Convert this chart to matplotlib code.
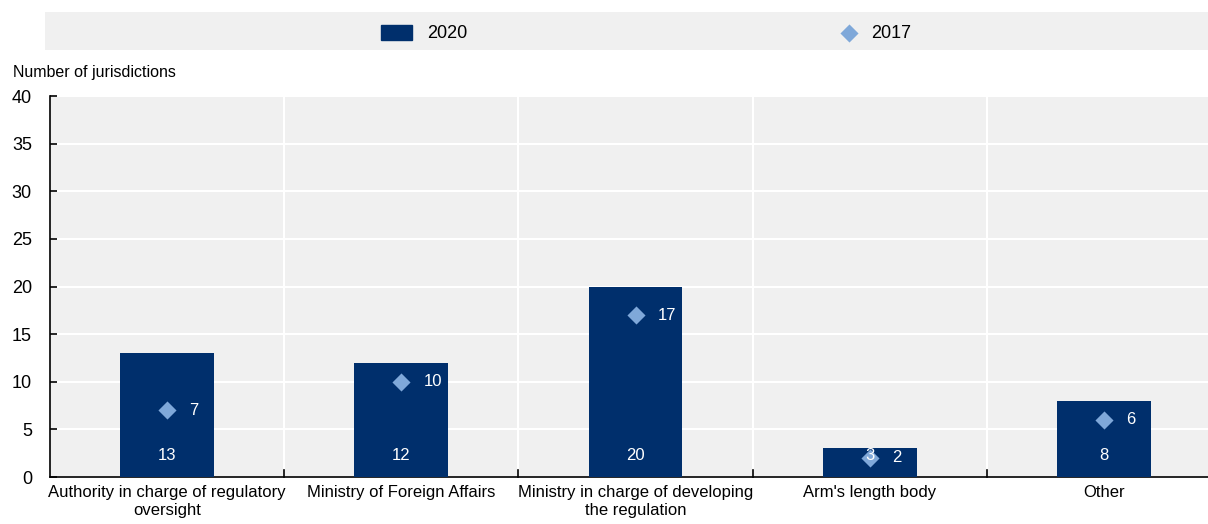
import matplotlib
matplotlib.use("Agg")
import matplotlib.pyplot as plt
import numpy as np

categories = ["Authority in charge of regulatory\noversight", "Ministry of Foreign Affairs",
              "Ministry in charge of developing\nthe regulation", "Arm's length body", "Other"]
values_2020 = [13, 12, 20, 3, 8]
values_2017 = [7, 10, 17, 2, 6]
yticks = [0, 5, 10, 15, 20, 25, 30, 35, 40]

plt.rcParams['font.family'] = ["Liberation Sans", "DejaVu Sans"]
fs = 12
fs_num = 13

bar_color = "#002f6c"
dia_color = "#7fa8d9"
bg = "#f0f0f0"

fig = plt.figure(figsize=(12.08, 5.24), dpi=100)
ax = fig.add_axes([50/1208, 1-477/524, 1171/1208, (477-96)/524])
ax.set_facecolor(bg)
x = np.arange(len(categories))
ax.bar(x, values_2020, width=0.4, color=bar_color, zorder=3)
ax.scatter(x, values_2017, marker="D", s=85, color=dia_color, zorder=4, linewidths=0)
for xi, v in zip(x, values_2020):
    ax.text(xi, 2.3, str(v), ha="center", va="center", color="white", fontsize=fs, zorder=5)
for xi, v in zip(x, values_2017):
    ax.text(xi + 0.095, v, str(v), ha="left", va="center", color="white", fontsize=fs, zorder=5)

ax.set_xlim(-0.5, len(categories) - 0.5)
ax.set_ylim(0, 40)
ax.set_yticks(yticks)
ax.set_yticklabels([str(t) for t in yticks], fontsize=fs_num)
ax.set_xticks(x)
ax.set_xticklabels(categories, fontsize=fs, linespacing=1.25)
ax.tick_params(axis="x", length=0, pad=6)
ax.tick_params(axis="y", direction="in", length=5, width=1.2, pad=13)
ax.grid(axis="y", color="white", linewidth=1.5, zorder=1)
for b in np.arange(0.5, len(categories) - 0.5, 1):
    ax.axvline(b, color="white", linewidth=1.5, zorder=1)
    ax.plot([b, b], [0, 0.7], color="black", linewidth=1.2, zorder=6, clip_on=False)
for s in ["top", "right"]:
    ax.spines[s].set_visible(False)
ax.spines["left"].set_linewidth(1.2)
ax.spines["bottom"].set_linewidth(1.2)

fig.text(13/1208, 1-72/524, "Number of jurisdictions", fontsize=fs - 0.5, va="center", ha="left")

# legend band
lax = fig.add_axes([45/1208, 1-50/524, 1-45/1208, 38/524])
lax.set_xlim(0, 1208 - 45)
lax.set_ylim(0, 38)
lax.axis("off")
lax.add_patch(plt.Rectangle((0, 0), 1208 - 45, 38, color=bg, zorder=0))
lax.add_patch(plt.Rectangle((381 - 45, 10), 31, 15, color=bar_color, zorder=2))
lax.text(427 - 45, 17, "2020", fontsize=fs_num, va="center", ha="left")
lax.scatter([849 - 45], [17], marker="D", s=85, color=dia_color, linewidths=0, zorder=2)
lax.text(871 - 45, 17, "2017", fontsize=fs_num, va="center", ha="left")

fig.savefig("out.png", dpi=100)
